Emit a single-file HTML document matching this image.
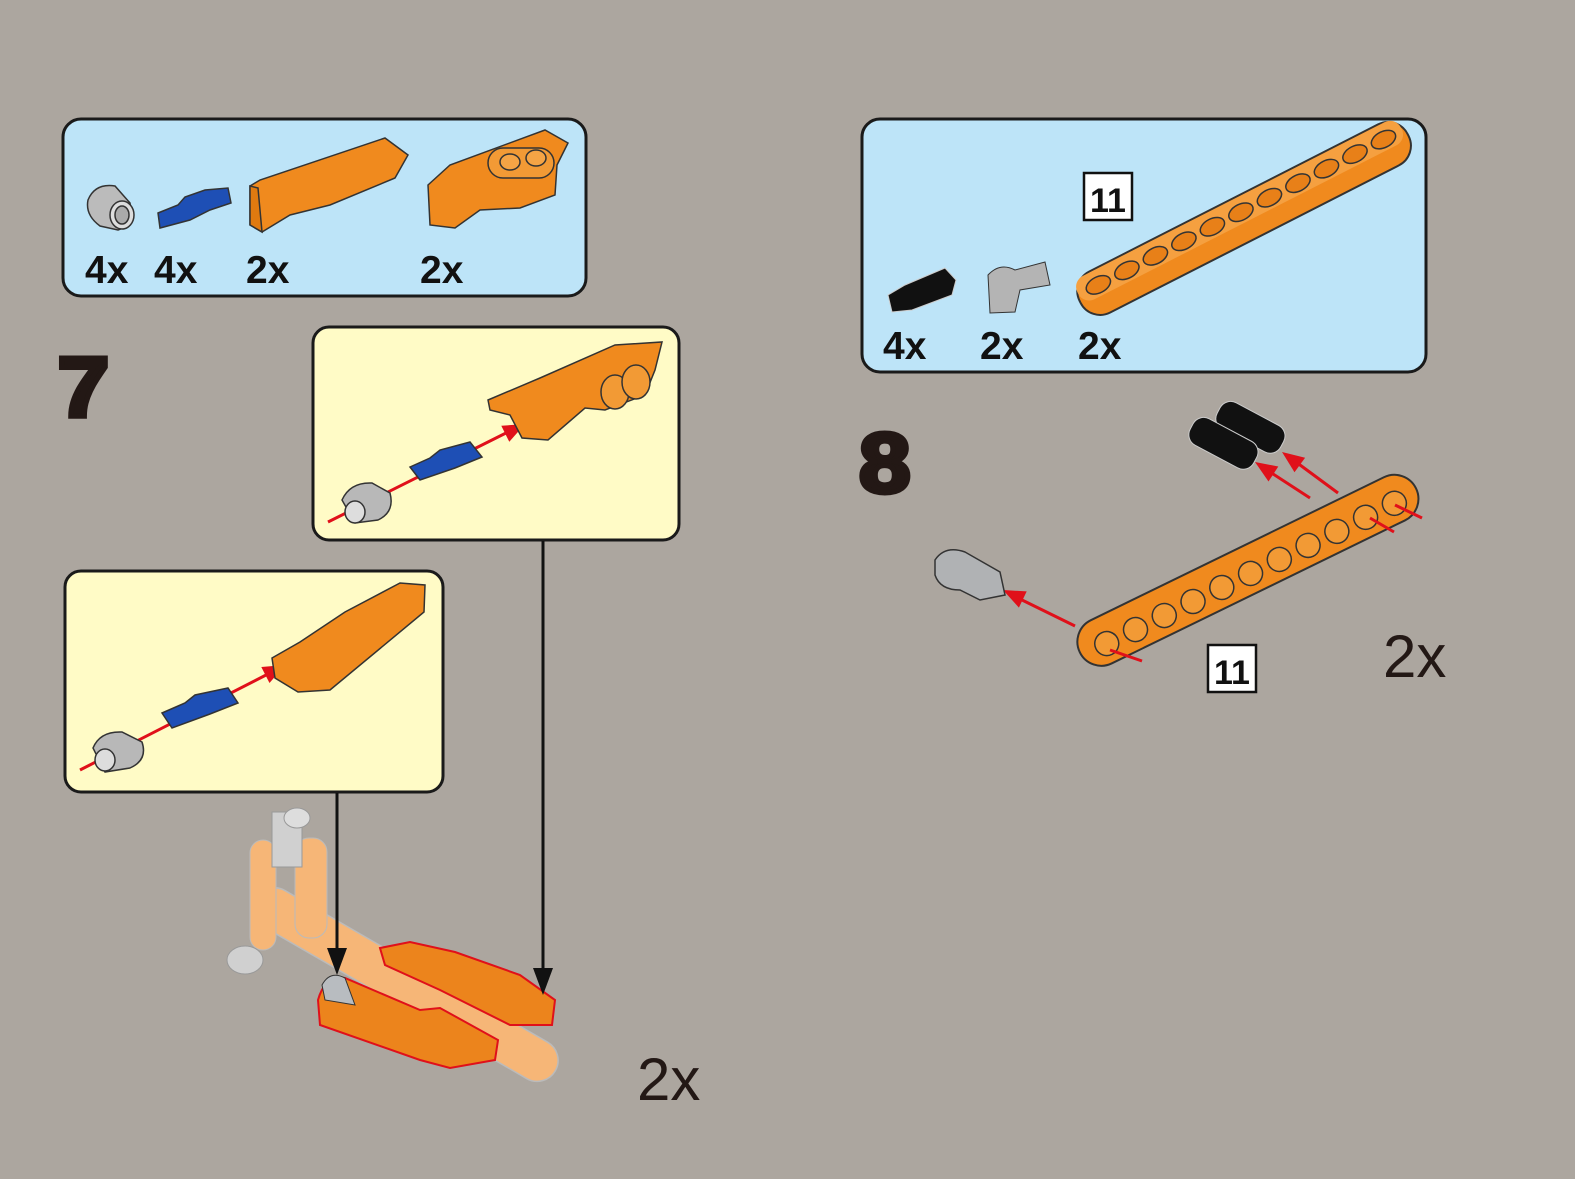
<!DOCTYPE html>
<html><head><meta charset="utf-8"><style>
html,body{margin:0;padding:0;background:#aca69f;}
svg{display:block}
text{font-family:"Liberation Sans",Arial,sans-serif;}
</style></head><body>
<svg width="1575" height="1179" viewBox="0 0 1575 1179" xmlns="http://www.w3.org/2000/svg">
<rect width="1575" height="1179" fill="#aca69f"/>

<!-- top-left parts panel -->
<rect x="63" y="119" width="523" height="177" rx="18" fill="#bde4f8" stroke="#1a1a1a" stroke-width="3"/>
<g stroke="#333" stroke-width="1.5">
<path d="M88,200 Q95,183 115,186 L130,203 Q135,225 118,230 L100,226 Q85,215 88,200Z" fill="#bbb"/>
<ellipse cx="122" cy="215" rx="12" ry="14" fill="#ddd"/>
<ellipse cx="122" cy="215" rx="7" ry="9" fill="#aaa"/>
<path d="M158,213 L178,205 L185,197 L205,190 L228,188 L231,203 L210,210 L190,220 L160,228Z" fill="#1e4fb5"/>
<path d="M250,186 L260,180 L385,138 L408,155 L395,178 L330,205 L290,215 L262,232 L250,225Z" fill="#f08a1e"/>
<path d="M250,186 L258,188 L262,232 L250,225Z" fill="#e07a10"/>
<path d="M428,185 L450,165 L545,130 L568,143 L557,165 L555,195 L520,208 L480,210 L455,228 L430,225Z" fill="#f08a1e"/>
<rect x="488" y="148" width="66" height="30" rx="15" fill="#f29a35"/>
<ellipse cx="510" cy="162" rx="10" ry="8" fill="#f5a445"/><ellipse cx="536" cy="158" rx="10" ry="8" fill="#f5a445"/>
</g>
<g font-weight="bold" font-size="39" fill="#111">
<text x="85" y="283">4x</text><text x="154" y="283">4x</text><text x="246" y="283">2x</text><text x="420" y="283">2x</text>
</g>

<!-- top-right parts panel -->
<rect x="862" y="119" width="564" height="253" rx="18" fill="#bde4f8" stroke="#1a1a1a" stroke-width="3"/>
<rect x="1084" y="173" width="48" height="47" fill="#fff" stroke="#111" stroke-width="2.5"/>
<text x="1108" y="212" font-weight="bold" font-size="34" text-anchor="middle" fill="#111">11</text>
<g transform="translate(1102,292) rotate(-27)">
<rect x="-24" y="-24" width="368" height="46" rx="22" fill="#f08a1e" stroke="#333" stroke-width="2"/>
<rect x="-22" y="-23" width="363" height="26" rx="12" fill="#f5a040"/>
<g fill="#e88018" stroke="#333" stroke-width="1.5">
<ellipse cx="0" cy="-8" rx="13" ry="8"/><ellipse cx="32" cy="-8" rx="13" ry="8"/><ellipse cx="64" cy="-8" rx="13" ry="8"/><ellipse cx="96" cy="-8" rx="13" ry="8"/><ellipse cx="128" cy="-8" rx="13" ry="8"/><ellipse cx="160" cy="-8" rx="13" ry="8"/><ellipse cx="192" cy="-8" rx="13" ry="8"/><ellipse cx="224" cy="-8" rx="13" ry="8"/><ellipse cx="256" cy="-8" rx="13" ry="8"/><ellipse cx="288" cy="-8" rx="13" ry="8"/><ellipse cx="320" cy="-8" rx="13" ry="8"/>
</g></g>
<g stroke="#ccc" stroke-width="1">
<path d="M888,295 L905,285 L945,268 L956,280 L952,295 L912,310 L892,312Z" fill="#111"/>
<path d="M988,275 Q1000,262 1015,270 L1045,262 L1050,285 L1020,290 L1015,312 L990,313 Z" fill="#b4b4b4" stroke="#333"/>
</g>
<g font-weight="bold" font-size="39" fill="#111">
<text x="883" y="359">4x</text><text x="980" y="359">2x</text><text x="1078" y="359">2x</text>
</g>

<!-- step numbers -->
<text x="58" y="416" font-family="DejaVu Sans" font-weight="bold" font-size="84" fill="#231815" stroke="#231815" stroke-width="5" transform="translate(-6,0) scale(1.1,1)">7</text>
<text x="781" y="492" font-family="DejaVu Sans" font-weight="bold" font-size="84" fill="#231815" stroke="#231815" stroke-width="5" transform="scale(1.1,1)">8</text>

<!-- yellow callout 1 -->
<rect x="313" y="327" width="366" height="213" rx="16" fill="#fffbc6" stroke="#1a1a1a" stroke-width="3"/>
<line x1="328" y1="522" x2="508" y2="432" stroke="#e0101a" stroke-width="3"/>
<polygon points="525,424 509.3,441.8 501.3,425.8" fill="#e0101a"/>
<g stroke="#333" stroke-width="1.5">
<path d="M342,500 Q350,482 372,483 L390,493 Q395,512 378,520 L355,523Z" fill="#b8b8b8"/>
<ellipse cx="355" cy="512" rx="10" ry="11" fill="#ddd"/>
<path d="M410,467 L430,458 L440,450 L470,442 L482,457 L455,468 L420,480Z" fill="#1e4fb5"/>
<path d="M488,400 L540,378 L615,345 L662,342 L655,370 L645,395 L605,410 L585,408 L548,440 L522,438 L510,415 L490,410Z" fill="#f08a1e"/>
<ellipse cx="615" cy="392" rx="14" ry="17" fill="#f29a35"/><ellipse cx="636" cy="382" rx="14" ry="17" fill="#f29a35"/>
</g>

<!-- yellow callout 2 -->
<rect x="65" y="571" width="378" height="221" rx="16" fill="#fffbc6" stroke="#1a1a1a" stroke-width="3"/>
<line x1="80" y1="770" x2="268" y2="674" stroke="#e0101a" stroke-width="3"/>
<polygon points="285,665 269.5,683 261.3,667" fill="#e0101a"/>
<g stroke="#333" stroke-width="1.5">
<path d="M93,748 Q100,731 122,732 L142,742 Q148,760 130,768 L105,772Z" fill="#b8b8b8"/>
<ellipse cx="105" cy="760" rx="10" ry="11" fill="#ddd"/>
<path d="M162,713 L185,703 L195,695 L228,688 L238,703 L210,714 L172,728Z" fill="#1e4fb5"/>
<path d="M272,658 L300,642 L345,612 L400,583 L425,585 L424,612 L330,690 L298,692 L275,678Z" fill="#f08a1e"/>
</g>

<!-- step 7 assembly -->
<g transform="translate(270,905) rotate(30)">
<rect x="-15" y="-20" width="345" height="42" rx="21" fill="#f6b677" stroke="#bbb" stroke-width="1.5"/>
</g>
<rect x="250" y="840" width="26" height="110" rx="13" fill="#f6b677" stroke="#bbb"/>
<rect x="295" y="838" width="32" height="100" rx="14" fill="#f6b677" stroke="#bbb"/>
<rect x="272" y="812" width="30" height="55" fill="#d0d0d0" stroke="#999"/>
<ellipse cx="297" cy="818" rx="13" ry="10" fill="#ddd" stroke="#999"/>
<ellipse cx="245" cy="960" rx="18" ry="14" fill="#d0d0d0" stroke="#999"/>
<g stroke="#e0101a" stroke-width="2">
<path d="M380,948 L410,942 L455,952 L520,975 L555,1000 L552,1025 L510,1025 L440,990 L385,965Z" fill="#ec841c"/>
<path d="M318,1000 Q325,975 345,978 L420,1010 L440,1008 L498,1040 L495,1060 L450,1068 L420,1060 L320,1025Z" fill="#ec841c"/>
</g>
<path d="M322,985 Q330,970 345,978 L355,1005 L325,1000Z" fill="#b8bcc0" stroke="#333"/>

<!-- leader lines -->
<line x1="543" y1="541" x2="543" y2="975" stroke="#111" stroke-width="3"/>
<path d="M533,968 L553,968 L543,995Z" fill="#111"/>
<line x1="337" y1="793" x2="337" y2="955" stroke="#111" stroke-width="3"/>
<path d="M327,948 L347,948 L337,975Z" fill="#111"/>
<text x="637" y="1100" font-size="60" fill="#231815">2x</text>

<!-- step 8 -->
<g transform="translate(1105,640) rotate(-26)">
<rect x="-28" y="-24" width="374" height="48" rx="24" fill="#f08a1e" stroke="#333" stroke-width="2"/>
<g fill="#f29a35" stroke="#333" stroke-width="1.5">
<ellipse cx="0" cy="4" rx="12" ry="12"/><ellipse cx="32" cy="4" rx="12" ry="12"/><ellipse cx="64" cy="4" rx="12" ry="12"/><ellipse cx="96" cy="4" rx="12" ry="12"/><ellipse cx="128" cy="4" rx="12" ry="12"/><ellipse cx="160" cy="4" rx="12" ry="12"/><ellipse cx="192" cy="4" rx="12" ry="12"/><ellipse cx="224" cy="4" rx="12" ry="12"/><ellipse cx="256" cy="4" rx="12" ry="12"/><ellipse cx="288" cy="4" rx="12" ry="12"/><ellipse cx="320" cy="4" rx="12" ry="12"/>
</g></g>
<g stroke="#e0101a" stroke-width="3" fill="none">
<line x1="1110" y1="650" x2="1142" y2="661"/>
<line x1="1075" y1="626" x2="1020" y2="599"/>
<line x1="1338" y1="493" x2="1296" y2="462"/>
<line x1="1310" y1="498" x2="1270" y2="472"/>
<line x1="1395" y1="505" x2="1422" y2="518"/>
<line x1="1370" y1="518" x2="1394" y2="532"/>
</g>
<g fill="#e0101a">
<polygon points="1003,590 1026.7,591.4 1018.9,607.6"/>
<polygon points="1282,452 1305.1,457.7 1294.5,472.3"/>
<polygon points="1255,462 1278.3,466.5 1268.5,481.5"/>
</g>
<g stroke="#ccc" stroke-width="1" fill="#111">
<rect x="1215" y="412" width="72" height="30" rx="12" transform="rotate(28 1250 426)"/>
<rect x="1188" y="428" width="72" height="30" rx="12" transform="rotate(28 1223 442)"/>
</g>
<path d="M935,560 Q945,545 965,552 L1000,572 L1005,595 L980,600 L960,590 Q940,590 935,575Z" fill="#b0b2b4" stroke="#333" stroke-width="1.5"/>
<rect x="1208" y="645" width="48" height="47" fill="#fff" stroke="#111" stroke-width="2.5"/>
<text x="1232" y="684" font-weight="bold" font-size="34" text-anchor="middle" fill="#111">11</text>
<text x="1383" y="677" font-size="60" fill="#231815">2x</text>
</svg>
</body></html>
